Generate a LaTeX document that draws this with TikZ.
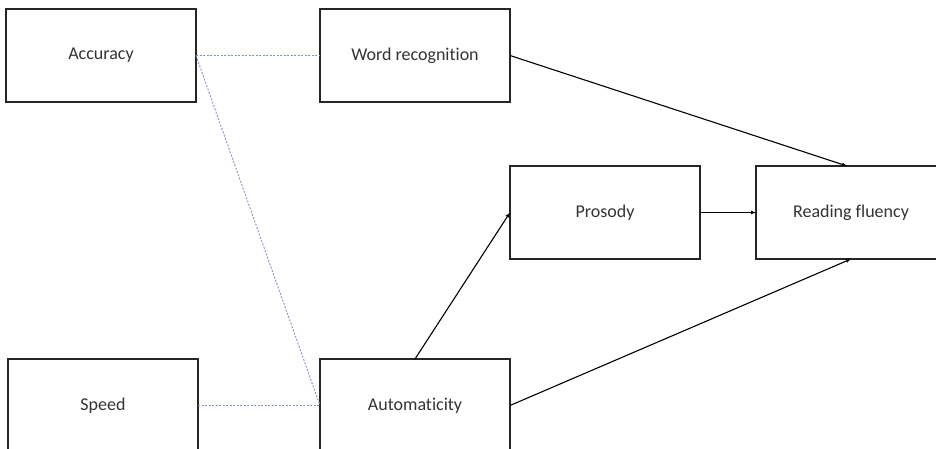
\documentclass[tikz,border=0pt]{standalone}
\usepackage{fontspec}
\setmainfont{Carlito}[Ligatures=NoCommon]
\usepackage{xcolor}
\usetikzlibrary{arrows.meta, positioning}
\definecolor{linkblue}{RGB}{130,145,205}

\begin{document}
\begin{tikzpicture}[
    x=1pt, y=-1pt,
    node distance=64pt and 124pt,
    box/.style={draw=black!85, line width=1.1pt, outer sep=0pt, align=center, minimum height=93pt, minimum width=190pt, text=black!80, font=\fontsize{18}{21}\selectfont},
    arr/.style={-{Latex[length=5pt, width=4pt]}, line width=1.1pt},
    link/.style={draw=linkblue, line width=0.9pt, dash pattern=on 2pt off 1.5pt}
]
\clip (0,0) rectangle (936,449);
\node[box] (accuracy) at (101,55.5) {Accuracy};
\node[box, right=of accuracy] (wordrec) {Word recognition};
\node[box, below=257pt of accuracy, xshift=2pt] (speed) {Speed};
\node[box, right=122pt of speed] (autom) {Automaticity};
\node[box, below right=64pt and 0pt of wordrec] (prosody) {Prosody};
\node[box, right=56pt of prosody] (fluency) {Reading fluency};

\draw[link] (accuracy.east) -- (wordrec.west);
\draw[link] (accuracy.east) -- (autom.west);
\draw[link] (speed.east) -- (autom.west);
\draw[arr] (wordrec.east) -- ([xshift=-4pt]fluency.north);
\draw[arr] (prosody) -- (fluency);
\draw[arr] (autom.north) -- (prosody.west);
\draw[arr] (autom.east) -- (fluency.south);
\end{tikzpicture}
\end{document}
